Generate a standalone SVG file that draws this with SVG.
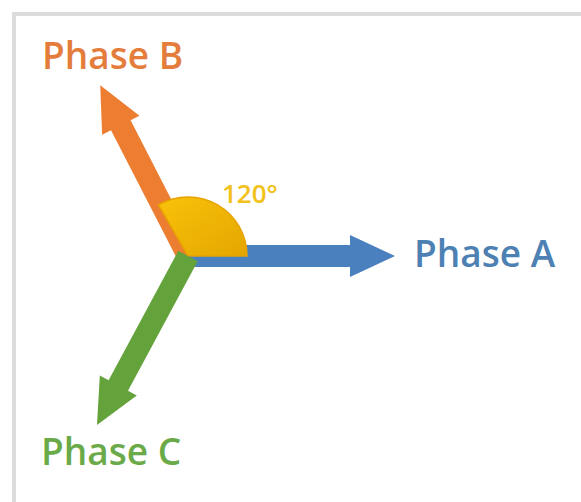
<svg xmlns="http://www.w3.org/2000/svg" width="581" height="502" viewBox="0 0 581 502">
  <defs>
    <style>
      .label { font-family: "Open Sans", "Liberation Sans", sans-serif; font-weight: 600; font-size: 37px; }
      .angle { font-family: "Open Sans", "Liberation Sans", sans-serif; font-weight: 600; font-size: 26px; fill: #F2C21A; }
    </style>
    <linearGradient id="sectorFill" x1="0" y1="0" x2="1" y2="1">
      <stop offset="0" stop-color="#F9C20A"/>
      <stop offset="1" stop-color="#E3A600"/>
    </linearGradient>
  </defs>

  <!-- page frame -->
  <rect x="0" y="0" width="581" height="502" fill="#ffffff"/>
  <rect x="14" y="14" width="600" height="520" fill="#ffffff" stroke="#dcdcdc" stroke-width="4"/>

  <!-- phasor arrows, all drawn from the common origin -->
  <g id="connectors">
    <g id="phase-a-arrow" transform="translate(188,256)">
      <path d="M0,-11 L162,-11 L162,-21 L207,0 L162,21 L162,11 L0,11 Z" fill="#4A80BE"/>
    </g>
    <g id="phase-b-arrow" transform="translate(188,256) rotate(-117.2)">
      <path d="M0,-11 L147,-11 L147,-21 L192,0 L147,21 L147,11 L0,11 Z" fill="#ED7D31"/>
    </g>
  </g>

  <!-- 120 degree sector between phase A and phase B -->
  <g id="angle-sector">
    <path d="M188,256 L247,256 A59,59 0 0 0 158.5,204.9 Z" fill="url(#sectorFill)" stroke="#E8A200" stroke-width="1.5"/>
  </g>

  <g id="phase-c-arrow" transform="translate(188,256) rotate(118.3)">
    <path d="M0,-11 L147,-11 L147,-21 L192,0 L147,21 L147,11 L0,11 Z" fill="#64A33C"/>
  </g>

  <g id="phase-a">
    <text class="label" x="414" y="267" fill="#4D80B3">Phase A</text>
  </g>
  <g id="phase-b">
    <text class="label" x="42" y="69" fill="#E47D3C">Phase B</text>
  </g>
  <g id="phase-c">
    <text class="label" x="41" y="465" fill="#6BAA48">Phase C</text>
  </g>
  <g id="angle-label">
    <text class="angle" x="222" y="203">120°</text>
  </g>
</svg>
